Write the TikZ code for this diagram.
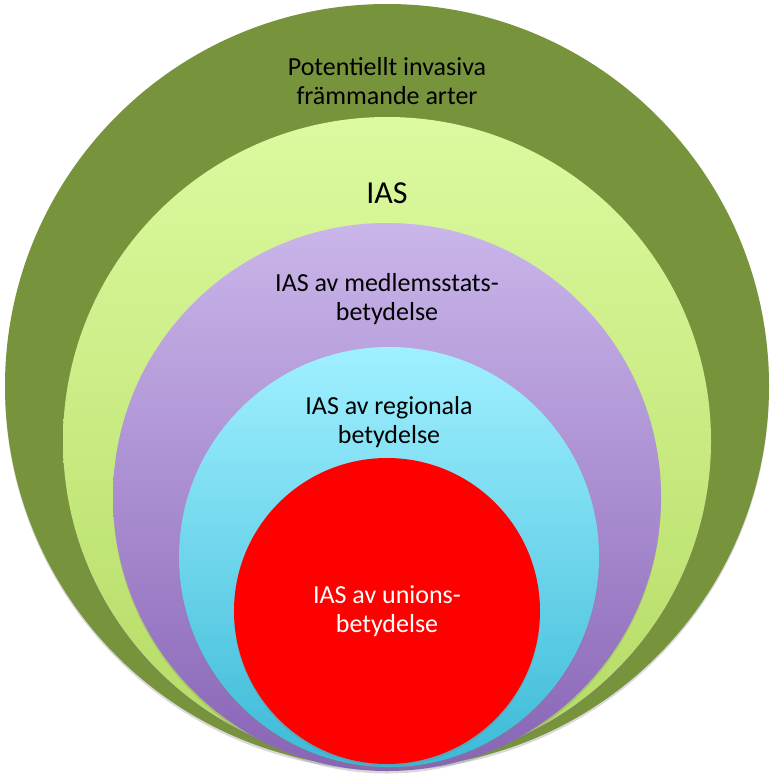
\documentclass[tikz,border=0pt]{standalone}
\usepackage{fontspec}
\setmainfont{Carlito}
\usetikzlibrary{shadows}
\usetikzlibrary{positioning}

\definecolor{olivegreen}{RGB}{119,147,60}
\definecolor{limetop}{RGB}{220,250,160}
\definecolor{limebottom}{RGB}{180,218,98}
\definecolor{lilactop}{RGB}{202,182,234}
\definecolor{lilacbottom}{RGB}{136,100,182}
\definecolor{skytop}{RGB}{160,240,255}
\definecolor{skybottom}{RGB}{60,186,216}
\definecolor{unionred}{RGB}{255,0,0}

\tikzset{
  ring/.style = {circle, draw = none, inner sep = 0pt, outer sep = 0pt,
    drop shadow = {shadow xshift = 0pt, shadow yshift = -2.5pt, opacity = 0.3}},
  ringtext/.style = {align = center, font = \fontsize{26}{29}\selectfont, text = black}
}

\begin{document}
\begin{tikzpicture}[x = 1pt, y = -1pt]
		\useasboundingbox (0, 0) rectangle (774, 784);

		% nested circles, all resting near the bottom
		\node (outer) [ring, minimum size = 764pt, fill = olivegreen] at (387, 386) {};
		\node (ias) [ring, minimum size = 648pt, top color = limetop, bottom color = limebottom] at (387, 441) {};
		\node (member) [ring, minimum size = 548pt, top color = lilactop, bottom color = lilacbottom] at (387, 497) {};
		\node (region) [ring, minimum size = 420pt, top color = skytop, bottom color = skybottom] at (389, 557) {};
		\node (union) [ring, minimum size = 306pt, fill = unionred] at (387, 611) {};

		% labels
		\node (outerlabel) [ringtext] at ([yshift = -77pt] outer.north) {Potentiellt invasiva\\främmande arter};
		\node (iaslabel) [ringtext, font = \fontsize{32}{36}\selectfont] at ([yshift = -76pt] ias.north) {IAS};
		\node (memberlabel) [ringtext] at ([yshift = -76pt] member.north) {IAS av medlemsstats-\\betydelse};
		\node (regionlabel) [ringtext] at ([yshift = -75pt] region.north) {IAS av regionala\\betydelse};
		\node (unionlabel) [ringtext, text = white] at (union.center) {IAS av unions-\\betydelse};
	\end{tikzpicture}
\end{document}
